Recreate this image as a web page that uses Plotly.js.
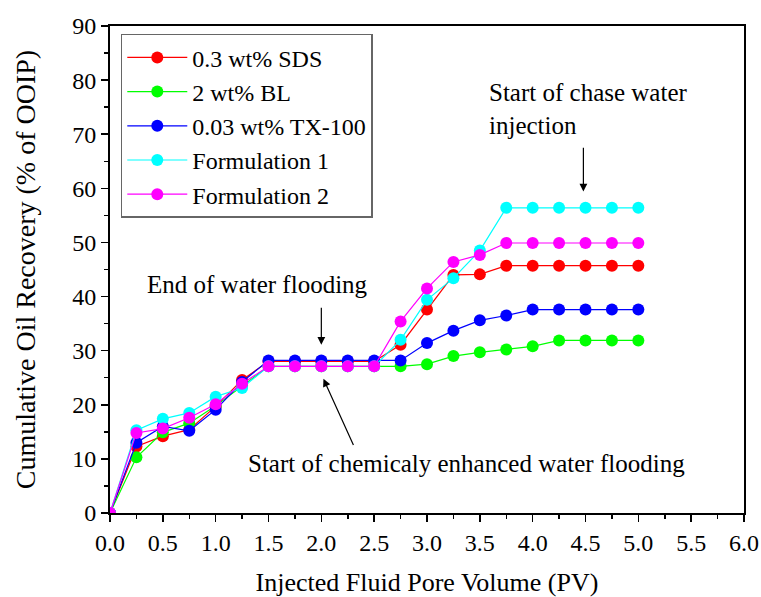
<!DOCTYPE html>
<html>
<head>
<meta charset="utf-8">
<script src="https://cdn.plot.ly/plotly-3.0.1.min.js"></script>
<style>html,body{margin:0;padding:0;background:#fff;}#chart{width:761px;height:597px;}</style>
</head>
<body>
<div id="chart"></div>
<script>
const pv = [0, 0.25, 0.5, 0.75, 1.0, 1.25, 1.5, 1.75, 2.0, 2.25, 2.5, 2.75, 3.0, 3.25, 3.5, 3.75, 4.0, 4.25, 4.5, 4.75, 5.0];
const sds = [0, 12.3, 14.2, 15.4, 19.7, 24.6, 28.0, 28.0, 28.0, 28.0, 28.0, 31.1, 37.6, 44.0, 44.1, 45.7, 45.7, 45.7, 45.7, 45.7, 45.7];
const bl = [0, 10.3, 14.9, 16.6, 19.8, 23.5, 27.1, 27.1, 27.1, 27.1, 27.1, 27.1, 27.5, 29.0, 29.7, 30.2, 30.8, 31.9, 31.9, 31.9, 31.9];
const tx100 = [0, 13.0, 16.0, 15.2, 19.1, 24.2, 28.2, 28.2, 28.2, 28.2, 28.2, 28.2, 31.4, 33.7, 35.6, 36.5, 37.6, 37.6, 37.6, 37.6, 37.6];
const form1 = [0, 15.3, 17.4, 18.5, 21.5, 23.1, 27.1, 27.1, 27.1, 27.1, 27.1, 32.0, 39.4, 43.4, 48.5, 56.4, 56.4, 56.4, 56.4, 56.4, 56.4];
const form2 = [0, 14.8, 15.6, 17.6, 20.1, 23.9, 27.1, 27.1, 27.1, 27.1, 27.1, 35.4, 41.5, 46.4, 47.7, 49.9, 49.9, 49.9, 49.9, 49.9, 49.9];
const seriesNames = ['0.3 wt% SDS', '2 wt% BL', '0.03 wt% TX-100', 'Formulation 1', 'Formulation 2'];
const seriesColors = ['#ff0000', '#00ff00', '#0000ff', '#00ffff', '#ff00ff'];
const seriesValues = [sds, bl, tx100, form1, form2];

const FONT = 'Liberation Serif, Times New Roman, serif';

const traces = seriesValues.map((vals, i) => ({
  type: 'scatter',
  mode: 'lines+markers',
  name: seriesNames[i],
  x: pv,
  y: vals,
  line: {color: seriesColors[i], width: 1.2},
  marker: {color: seriesColors[i], size: 12, symbol: 'circle'}
}));

const axisCommon = {
  showline: true, linecolor: '#000', linewidth: 2, mirror: true,
  showgrid: false, zeroline: false,
  ticks: 'outside', ticklen: 7, tickwidth: 1.5, tickcolor: '#000',
  tickfont: {family: FONT, size: 24, color: '#000'}
};

const layout = {
  width: 761, height: 597,
  margin: {l: 110, r: 17, t: 26, b: 84},
  paper_bgcolor: '#fff', plot_bgcolor: '#fff',
  font: {family: FONT, color: '#000'},
  showlegend: true,
  legend: {
    x: 0.017, y: 0.984, xanchor: 'left', yanchor: 'top',
    bgcolor: '#fff', bordercolor: '#666', borderwidth: 1.5,
    font: {family: FONT, size: 24, color: '#000'},
    itemwidth: 60,
    tracegroupgap: 0
  },
  xaxis: Object.assign({}, axisCommon, {
    range: [0, 6], dtick: 0.5, tick0: 0, tickformat: '.1f',
    minor: {dtick: 0.25, ticks: 'outside', ticklen: 4, tickwidth: 1.5, tickcolor: '#000', showgrid: false},
    title: {text: 'Injected Fluid Pore Volume (PV)', font: {family: FONT, size: 26, color: '#000'}, standoff: 18}
  }),
  yaxis: Object.assign({}, axisCommon, {
    range: [0, 90], dtick: 10, tick0: 0,
    minor: {dtick: 5, ticks: 'outside', ticklen: 4, tickwidth: 1.5, tickcolor: '#000', showgrid: false},
    title: {text: 'Cumulative Oil Recovery (% of OOIP)', font: {family: FONT, size: 28, color: '#000'}, standoff: 28}
  }),
  annotations: [
    {xref: 'x', yref: 'y', x: 1.396, y: 42.2, text: 'End of water flooding', showarrow: false,
     font: {family: FONT, size: 25, color: '#000'}, xanchor: 'center', yanchor: 'middle'},
    {xref: 'x', yref: 'y', x: 2.0, y: 31.1, ax: 2.0, ay: 38.2, axref: 'x', ayref: 'y', text: '',
     showarrow: true, arrowhead: 2, arrowsize: 1.3, arrowwidth: 1.2, arrowcolor: '#000', standoff: 0},
    {xref: 'x', yref: 'y', x: 3.567, y: 74.6, text: 'Start of chase water<br>injection', showarrow: false, align: 'left',
     font: {family: FONT, size: 25, color: '#000'}, xanchor: 'left', yanchor: 'middle'},
    {xref: 'x', yref: 'y', x: 4.48, y: 59.4, ax: 4.48, ay: 67.8, axref: 'x', ayref: 'y', text: '',
     showarrow: true, arrowhead: 2, arrowsize: 1.3, arrowwidth: 1.2, arrowcolor: '#000', standoff: 0},
    {xref: 'x', yref: 'y', x: 3.373, y: 9.1, text: 'Start of chemicaly enhanced water flooding', showarrow: false,
     font: {family: FONT, size: 25, color: '#000'}, xanchor: 'center', yanchor: 'middle'},
    {xref: 'x', yref: 'y', x: 2.02, y: 24.8, ax: 2.31, ay: 12.3, axref: 'x', ayref: 'y', text: '',
     showarrow: true, arrowhead: 2, arrowsize: 1.3, arrowwidth: 1.2, arrowcolor: '#000', standoff: 0}
  ]
};

Plotly.newPlot('chart', traces, layout, {displayModeBar: false, staticPlot: true});
</script>
</body>
</html>
